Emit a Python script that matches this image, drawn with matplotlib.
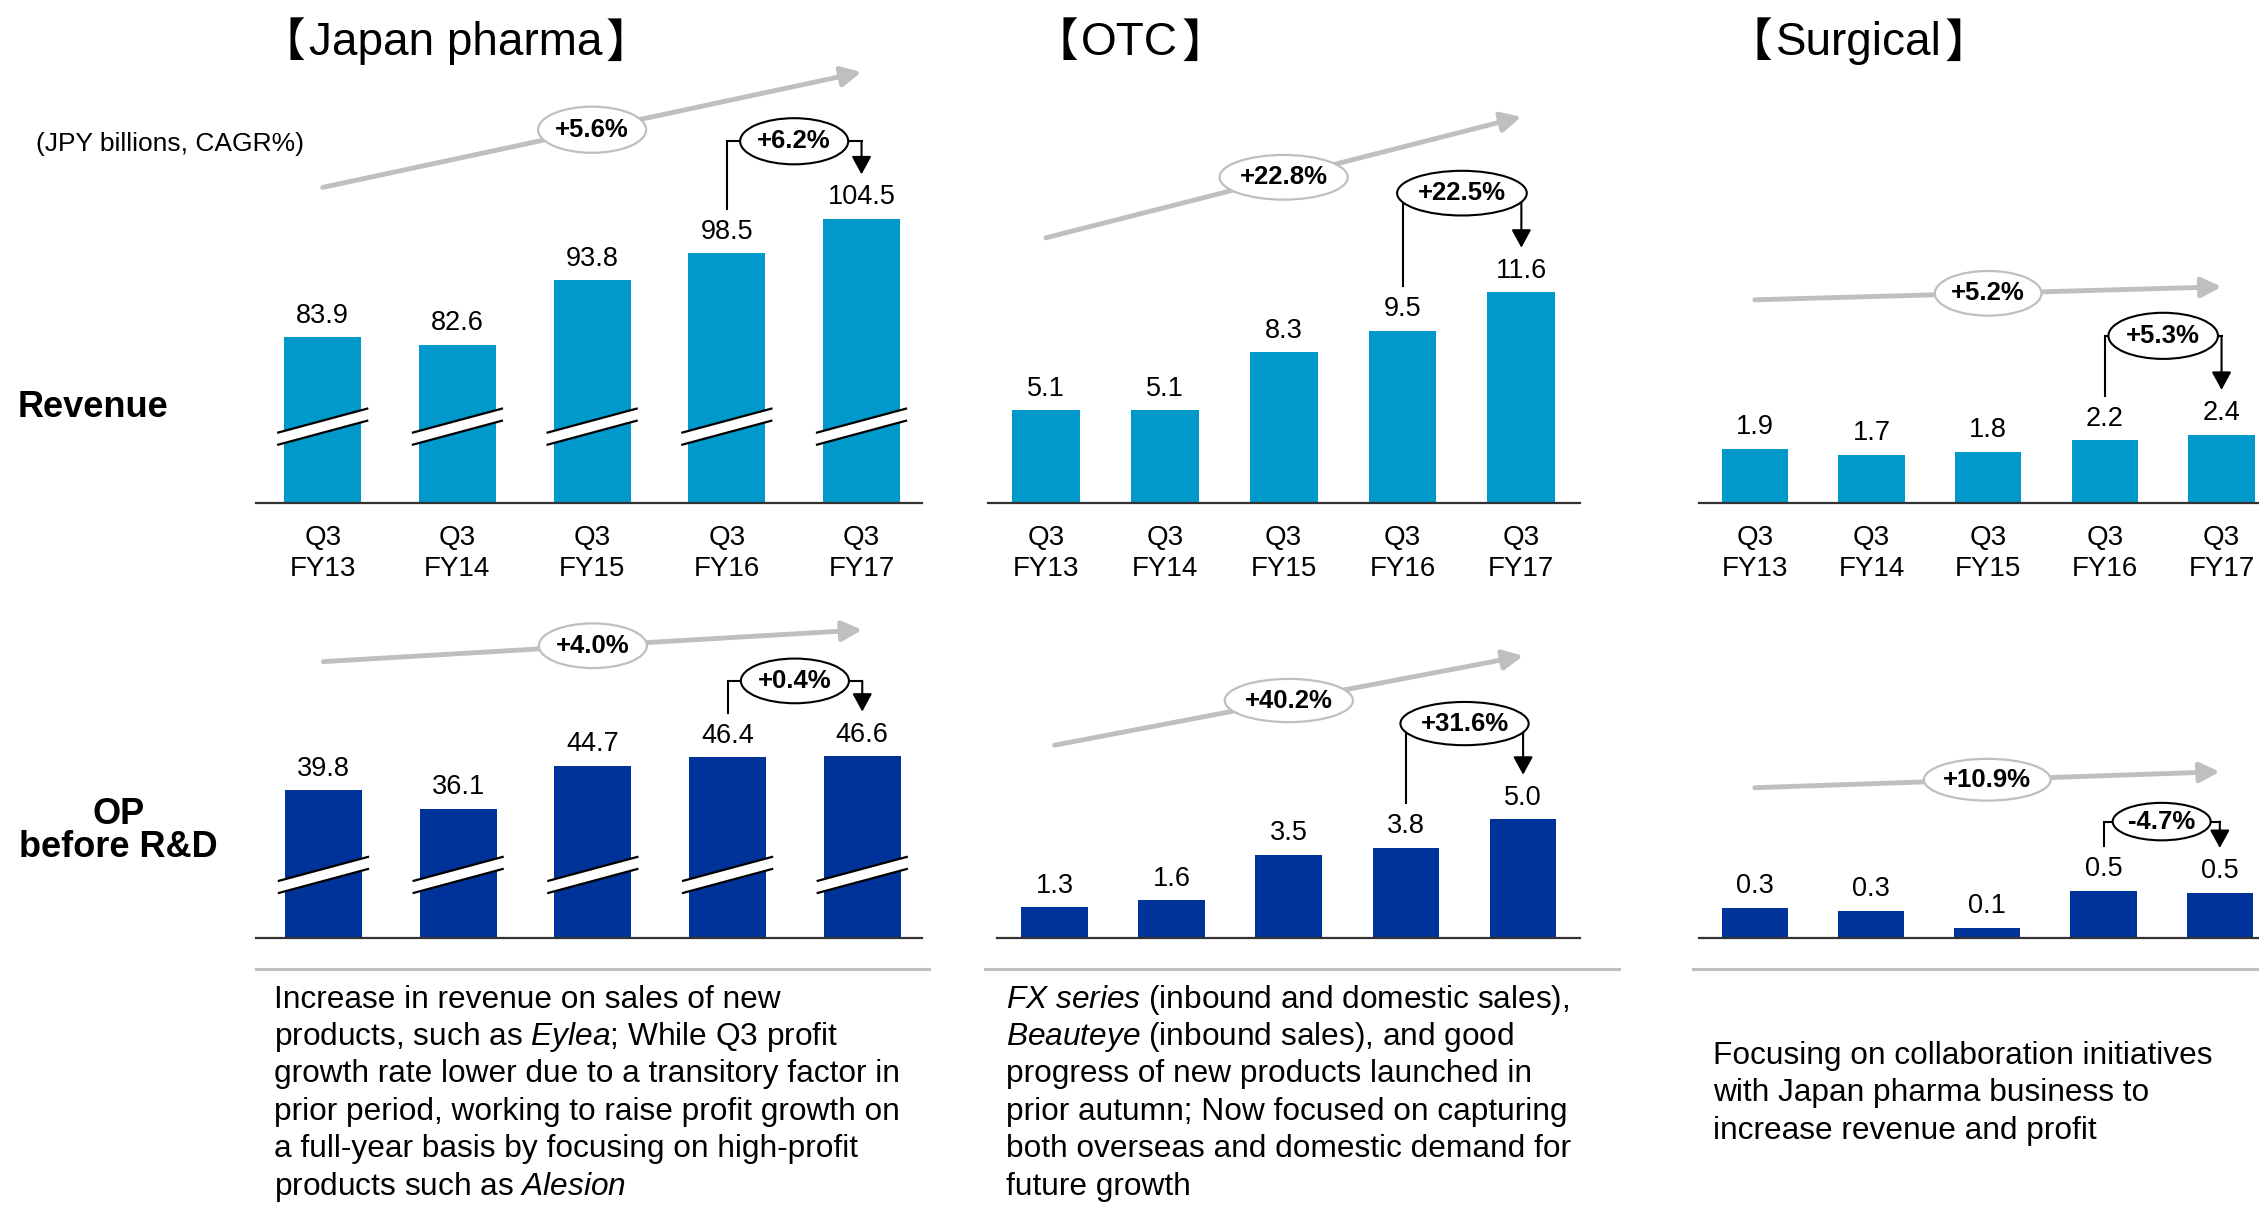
import matplotlib
matplotlib.use("Agg")
import matplotlib.pyplot as plt
from matplotlib.patches import Ellipse, Polygon
from matplotlib.lines import Line2D

plt.rcParams['font.family'] = ['Liberation Sans', 'Noto Sans CJK JP', 'DejaVu Sans']
plt.rcParams['mathtext.fontset'] = 'custom'
plt.rcParams['mathtext.rm'] = 'Liberation Sans'
plt.rcParams['mathtext.it'] = 'Liberation Sans:italic'
plt.rcParams['mathtext.bf'] = 'Liberation Sans:bold'

# ---------------- data ----------------
quarters = ["Q3", "Q3", "Q3", "Q3", "Q3"]
fiscal_years = ["FY13", "FY14", "FY15", "FY16", "FY17"]

jp_revenue = [83.9, 82.6, 93.8, 98.5, 104.5]
jp_op = [39.8, 36.1, 44.7, 46.4, 46.6]
otc_revenue = [5.1, 5.1, 8.3, 9.5, 11.6]
otc_op = [1.3, 1.6, 3.5, 3.8, 5.0]
surg_revenue = [1.9, 1.7, 1.8, 2.2, 2.4]
surg_op = [0.32, 0.29, 0.11, 0.50, 0.48]

cagr_labels = {"jr": "+5.6%", "or": "+22.8%", "sr": "+5.2%",
               "jo": "+4.0%", "oo": "+40.2%", "so": "+10.9%"}
yoy_labels = {"jr": "+6.2%", "or": "+22.5%", "sr": "+5.3%",
              "jo": "+0.4%", "oo": "+31.6%", "so": "-4.7%"}

titles = ["Japan pharma", "OTC", "Surgical"]
unit_note = "(JPY billions, CAGR%)"
row_labels = ["Revenue", "OP", "before R&D"]

jp_text = ["Increase in revenue on sales of new",
           r"products, such as $\mathit{Eylea}$; While Q3 profit",
           "growth rate lower due to a transitory factor in",
           "prior period, working to raise profit growth on",
           "a full-year basis by focusing on high-profit",
           r"products such as $\mathit{Alesion}$"]
otc_text = [r"$\mathit{FX\ series}$ (inbound and domestic sales),",
            r"$\mathit{Beauteye}$ (inbound sales), and good",
            "progress of new products launched in",
            "prior autumn; Now focused on capturing",
            "both overseas and domestic demand for",
            "future growth"]
surg_text = ["Focusing on collaboration initiatives",
             "with Japan pharma business to",
             "increase revenue and profit"]

# ---------------- layout ----------------
W, H = 2259, 1205
GW, GH = 1568, 836          # layout grid
PX = W / GW
PT = PX * 72 / 100          # points per grid px

REV_C = '#0099CC'
OP_C = '#003399'
GRAY = '#BFBFBF'

fig = plt.figure(figsize=(W / 100, H / 100), dpi=100)


def fx(x):
    return x / GW


def fy(y):
    return 1 - y / GH


AXH = 330


def draw_panel(vals, color, c0, d, yb, ppu, base, axL, axR, key,
               cagr_h0, cagr_h1, cagr_w, cagr_eh, lvl, yoy_w, yoy_eh,
               brk=None, ticks=True):
    ax = fig.add_axes([fx(axL), fy(yb), (axR - axL) / GW, AXH / GH])
    ax.set_xlim((axL - c0) / d, (axR - c0) / d)
    ax.set_ylim(base, base + AXH / ppu)
    ax.axis('off')
    ax.patch.set_visible(False)

    def Y(h):
        return base + h / ppu

    xs = list(range(len(vals)))
    ax.bar(xs, vals, width=0.57, color=color, zorder=2)
    ax.axhline(base, color='#333333', lw=1.6, clip_on=False, zorder=3)

    for i, v in enumerate(vals):
        ax.annotate(f"{v:.1f}", (i, v), xytext=(0, 15 * PT), textcoords='offset points',
                    ha='center', va='center', fontsize=19.5, annotation_clip=False)

    if ticks:
        for i in xs:
            ax.annotate(quarters[i], (i, base), xytext=(0, -24 * PT), textcoords='offset points',
                        ha='center', va='center', fontsize=20, annotation_clip=False)
            ax.annotate(fiscal_years[i], (i, base), xytext=(0, -45.5 * PT), textcoords='offset points',
                        ha='center', va='center', fontsize=20, annotation_clip=False)

    if brk is not None:
        hw = 0.285 + 5 / d
        rise, gap = 8.5, 4.2
        for i in xs:
            lo = [(i - hw, Y(brk - rise - gap)), (i + hw, Y(brk + rise - gap))]
            up = [(i - hw, Y(brk - rise + gap)), (i + hw, Y(brk + rise + gap))]
            ax.add_patch(Polygon([lo[0], lo[1], up[1], up[0]], closed=True,
                                 facecolor='white', edgecolor='none', zorder=3))
            for seg in (lo, up):
                ax.plot([seg[0][0], seg[1][0]], [seg[0][1], seg[1][1]], color='black',
                        lw=1.6, zorder=4, solid_capstyle='butt')

    # CAGR arrow
    ax.annotate('', xy=(4, Y(cagr_h1)), xytext=(0, Y(cagr_h0)),
                arrowprops=dict(arrowstyle='-|>,head_length=0.6,head_width=0.3', color=GRAY,
                                lw=3.5, mutation_scale=20, shrinkA=0, shrinkB=0),
                annotation_clip=False, zorder=4)
    hm = (cagr_h0 + cagr_h1) / 2
    ax.add_patch(Ellipse((2, Y(hm)), cagr_w / d, cagr_eh / ppu, facecolor='white',
                         edgecolor=GRAY, lw=1.6, clip_on=False, zorder=6))
    ax.text(2, Y(hm), cagr_labels[key], ha='center', va='center', fontsize=18.5,
            fontweight='bold', zorder=7, clip_on=False)

    # YoY bracket
    ys = vals[3] + 31 / ppu
    yt = vals[4] + 31 / ppu
    yl = Y(lvl)
    ax.plot([3, 3, 4], [ys, yl, yl], color='black', lw=1.5, clip_on=False, zorder=5,
            solid_joinstyle='miter')
    ax.annotate('', xy=(4, yt), xytext=(4, yl),
                arrowprops=dict(arrowstyle='-|>,head_length=0.55,head_width=0.3', color='black',
                                lw=1.5, mutation_scale=20, shrinkA=0, shrinkB=0),
                annotation_clip=False, zorder=5)
    ax.add_patch(Ellipse((3.5, yl), yoy_w / d, yoy_eh / ppu, facecolor='white',
                         edgecolor='black', lw=1.5, clip_on=False, zorder=6))
    ax.text(3.5, yl, yoy_labels[key], ha='center', va='center', fontsize=18.5,
            fontweight='bold', zorder=7, clip_on=False)
    return ax


draw_panel(jp_revenue, REV_C, 224, 93.5, 349, 3.98, 55.0, 178, 640, "jr",
           219, 299, 75, 32, 251, 75, 32, brk=53)
draw_panel(otc_revenue, REV_C, 726, 82.5, 349, 12.6, 0, 686, 1097, "or",
           184, 268, 89, 31, 215, 90, 31)
draw_panel(surg_revenue, REV_C, 1218, 81, 349, 19.8, 0, 1179, 1600, "sr",
           141, 150, 74, 31, 116, 76, 32)
draw_panel(jp_op, OP_C, 224.5, 93.5, 651, 3.46, 10.1, 178, 640, "jo",
           192, 214, 75, 31, 178.6, 75, 31, brk=44, ticks=False)
draw_panel(otc_op, OP_C, 732, 81.3, 651, 16.5, 0, 692, 1097, "oo",
           134, 196, 89, 30, 149, 89, 30, ticks=False)
draw_panel(surg_op, OP_C, 1218, 80.7, 651, 66, 0, 1179, 1600, "so",
           104.5, 115.6, 88, 29, 81, 68, 26, ticks=False)

# ---------------- titles ----------------
renderer = fig.canvas.get_renderer()
for name, cx in zip(titles, [316, 784, 1290]):
    t = fig.text(fx(cx), fy(30), name, ha='center', va='center', fontsize=33)
    bb = t.get_window_extent(renderer)
    fig.text((bb.x0 - 3) / W, fy(30), "【", ha='right', va='center', fontsize=33,
             family='Noto Sans CJK JP')
    fig.text((bb.x1 + 3) / W, fy(30), "】", ha='left', va='center', fontsize=33,
             family='Noto Sans CJK JP')

# ---------------- left labels ----------------
fig.text(fx(25), fy(100), unit_note, ha='left', va='center', fontsize=19)
fig.text(fx(12), fy(283), row_labels[0], ha='left', va='center', fontsize=26, fontweight='bold')
fig.text(fx(82), fy(565), row_labels[1], ha='center', va='center', fontsize=26, fontweight='bold')
fig.text(fx(82), fy(588), row_labels[2], ha='center', va='center', fontsize=26, fontweight='bold')

# ---------------- separators ----------------
for x0, x1 in [(178, 645), (684, 1124), (1175, 1568)]:
    fig.add_artist(Line2D([fx(x0), fx(x1)], [fy(672), fy(672)], color=GRAY, lw=2.2))

# ---------------- commentary ----------------
for k, line in enumerate(jp_text):
    fig.text(fx(190), fy(699 + 26 * k), line, ha='left', va='baseline', fontsize=22.8)
for k, line in enumerate(otc_text):
    fig.text(fx(698), fy(699 + 26 * k), line, ha='left', va='baseline', fontsize=22.8)
for k, line in enumerate(surg_text):
    fig.text(fx(1189), fy(738 + 26 * k), line, ha='left', va='baseline', fontsize=22.8)

fig.savefig("out.png", dpi=100)
